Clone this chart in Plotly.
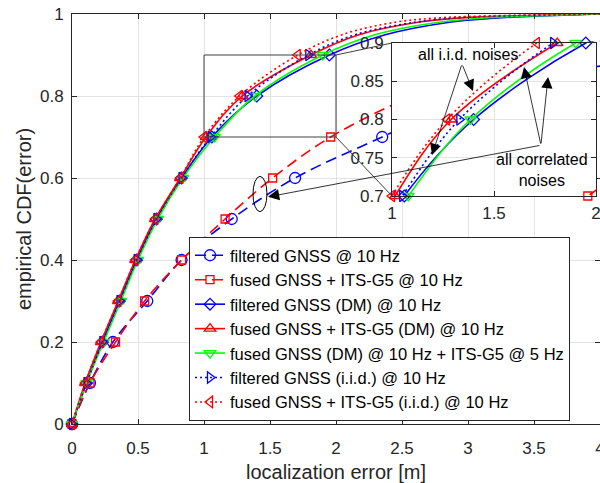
import plotly.graph_objects as go

# ---------------- data ----------------
# CDF levels for the solid / dotted curves
levels = [0, 0.1, 0.2, 0.3, 0.4, 0.5, 0.6, 0.7, 0.8, 0.9, 0.95, 0.98, 0.99, 0.995, 1.0]
# localization error [m] reached at each CDF level
filt_dm      = [0, 0.11, 0.23, 0.36, 0.49, 0.64, 0.83, 1.06, 1.40, 1.95, 2.38, 2.86, 3.20, 3.55, 4.0]
fused_dm     = [0, 0.10, 0.22, 0.35, 0.48, 0.63, 0.82, 1.015, 1.29, 1.81, 2.18, 2.62, 2.92, 3.30, 4.0]
fused_dm_5hz = [0, 0.11, 0.24, 0.37, 0.50, 0.65, 0.84, 1.08, 1.385, 1.90, 2.30, 2.78, 3.10, 3.45, 4.0]
filt_iid     = [0, 0.11, 0.23, 0.36, 0.49, 0.64, 0.83, 1.05, 1.33, 1.79, 2.15, 2.60, 2.88, 3.25, 4.0]
fused_iid    = [0, 0.10, 0.22, 0.35, 0.48, 0.63, 0.82, 1.00, 1.27, 1.71, 2.05, 2.45, 2.75, 3.10, 4.0]

# dashed curves (filtered / fused GNSS @ 10 Hz)
levels_filt  = [0, 0.1, 0.2, 0.3, 0.4, 0.5, 0.6, 0.7, 0.8, 0.85, 0.873]
filt_gnss    = [0, 0.136, 0.31, 0.57, 0.83, 1.21, 1.69, 2.35, 3.05, 3.55, 4.0]
levels_fused = [0, 0.1, 0.2, 0.3, 0.4, 0.5, 0.6, 0.7, 0.8, 0.9, 0.934]
fused_gnss   = [0, 0.136, 0.33, 0.55, 0.83, 1.16, 1.52, 1.96, 2.58, 3.40, 4.0]

marker_levels = [0, 0.1, 0.2, 0.3, 0.4, 0.5, 0.6, 0.7, 0.8, 0.9]

names = [
    "filtered GNSS @ 10 Hz",
    "fused GNSS + ITS-G5 @ 10 Hz",
    "filtered GNSS (DM) @ 10 Hz",
    "fused GNSS + ITS-G5 (DM) @ 10 Hz",
    "fused GNSS (DM) @ 10 Hz + ITS-G5 @ 5 Hz",
    "filtered GNSS (i.i.d.) @ 10 Hz",
    "fused GNSS + ITS-G5 (i.i.d.) @ 10 Hz",
]

x_ticks = [0, 0.5, 1, 1.5, 2, 2.5, 3, 3.5, 4]
y_ticks = [0, 0.2, 0.4, 0.6, 0.8, 1]
inset_x_ticks = [1, 1.5, 2]
inset_y_ticks = [0.7, 0.75, 0.8, 0.85, 0.9]

# ---------------- styles ----------------
BLUE, RED, GREEN = "#0000ff", "#ff0000", "#00ff00"
DASH = "11px,6px"
DOT = "2px,3px"
series = [
    (filt_gnss, levels_filt, BLUE, DASH, "circle-open", 11),
    (fused_gnss, levels_fused, RED, DASH, "square-open", 8),
    (filt_dm, levels, BLUE, "solid", "diamond-open", 9),
    (fused_dm, levels, RED, "solid", "triangle-up-open", 10),
    (fused_dm_5hz, levels, GREEN, "solid", "triangle-down-open", 10),
    (filt_iid, levels, BLUE, DOT, "triangle-right-open", 10),
    (fused_iid, levels, RED, DOT, "triangle-left-open", 10),
]

FONT = "Liberation Sans, Arial, Helvetica, sans-serif"
AX = "#262626"
GRID = "#e3e3e3"

W, H = 600, 483
ML, MR, MT, MB = 72, 0, 14, 59
XR = [0, 4]
YR = [0, 1]
IX = [1, 2]
IY = [0.7, 0.9]
inset_dom_x = [0.6061, 0.9924]
inset_dom_y = [0.5561, 0.9293]

fig = go.Figure()

def marker_pts(xs, lv):
    mx, my = [], []
    for x, l in zip(xs, lv):
        if any(abs(l - m) < 1e-9 for m in marker_levels):
            mx.append(x)
            my.append(l)
    return mx, my

# main curves
for (xs, lv, col, dash, sym, ms), name in zip(series, names):
    fig.add_trace(go.Scatter(x=xs, y=lv, mode="lines", line=dict(color=col, width=1.6, dash=dash, shape="spline"),
                             showlegend=False, hoverinfo="skip", xaxis="x", yaxis="y"))
    mx, my = marker_pts(xs, lv)
    fig.add_trace(go.Scatter(x=mx, y=my, mode="markers", cliponaxis=False,
                             marker=dict(symbol=sym, size=ms, color=col, line=dict(color=col, width=1.3)),
                             showlegend=False, hoverinfo="skip", xaxis="x", yaxis="y"))

# legend entries
for (xs, lv, col, dash, sym, ms), name in zip(series, names):
    fig.add_trace(go.Scatter(x=[None], y=[None], mode="lines+markers", name=name,
                             line=dict(color=col, width=1.6, dash=dash),
                             marker=dict(symbol=sym, size=ms, color=col, line=dict(color=col, width=1.3)),
                             xaxis="x", yaxis="y"))

# inset curves
for (xs, lv, col, dash, sym, ms), name in zip(series, names):
    fig.add_trace(go.Scatter(x=xs, y=lv, mode="lines", line=dict(color=col, width=1.6, dash=dash, shape="spline"),
                             showlegend=False, hoverinfo="skip", xaxis="x2", yaxis="y2"))
    mx, my = marker_pts(xs, lv)
    keep = [(a, b) for a, b in zip(mx, my)
            if IX[0] - 1e-6 <= a <= IX[1] + 1e-6 and IY[0] - 1e-6 <= b <= IY[1] + 1e-6]
    fig.add_trace(go.Scatter(x=[k[0] for k in keep], y=[k[1] for k in keep], mode="markers", cliponaxis=False,
                             marker=dict(symbol=sym, size=ms, color=col, line=dict(color=col, width=1.3)),
                             showlegend=False, hoverinfo="skip", xaxis="x2", yaxis="y2"))

axis_common = dict(showline=True, linecolor=AX, linewidth=1, mirror="ticks", ticks="inside",
                   tickcolor=AX, ticklen=5, tickwidth=1, showgrid=True, gridcolor=GRID, gridwidth=1,
                   zeroline=False, automargin=False, ticklabeloverflow="allow",
                   tickfont=dict(family=FONT, size=17, color=AX))

fig.update_layout(
    width=W, height=H,
    margin=dict(l=ML, r=MR, t=MT, b=MB, autoexpand=False),
    paper_bgcolor="white", plot_bgcolor="white",
    font=dict(family=FONT, color=AX),
    xaxis=dict(range=XR, domain=[0, 1], tickvals=x_ticks, ticktext=[f"{v:g}" for v in x_ticks],
               title=dict(text="localization error [m]", font=dict(size=20, color=AX), standoff=8),
               ticklabelstandoff=9, **axis_common),
    yaxis=dict(range=YR, domain=[0, 1], tickvals=y_ticks, ticktext=[f"{v:g}" for v in y_ticks],
               title=dict(text="empirical CDF(error)", font=dict(size=20, color=AX), standoff=2),
               ticklabelstandoff=4, **axis_common),
    xaxis2=dict(range=IX, domain=inset_dom_x, anchor="y2", tickvals=inset_x_ticks,
                ticktext=[f"{v:g}" for v in inset_x_ticks], ticklabelstandoff=2, **axis_common),
    yaxis2=dict(range=IY, domain=inset_dom_y, anchor="x2", tickvals=inset_y_ticks,
                ticktext=[f"{v:g}" for v in inset_y_ticks], ticklabelstandoff=4, **axis_common),
    legend=dict(x=0.2216, y=0.456, xanchor="left", yanchor="top", bgcolor="white",
                bordercolor=AX, borderwidth=1, font=dict(family=FONT, size=16.5, color="black"),
                traceorder="normal"),
    showlegend=True,
)

# white background of the inset (drawn under the inset traces but over the main ones)
fig.add_shape(type="rect", xref="x2", yref="y2", x0=IX[0], x1=IX[1], y0=IY[0], y1=IY[1],
              fillcolor="white", line=dict(width=0), layer="below")

# zoom rectangle on the main axes
fig.add_shape(type="rect", xref="x", yref="y", x0=IX[0], x1=IX[1], y0=IY[0], y1=IY[1],
              line=dict(color="#404040", width=1), layer="above")
# connector lines (paper coordinates of the main plot area)
def px(x):
    return (x - XR[0]) / (XR[1] - XR[0])
def py(y):
    return (y - YR[0]) / (YR[1] - YR[0])
fig.add_shape(type="line", xref="paper", yref="paper", x0=px(IX[1]), y0=py(IY[1]),
              x1=inset_dom_x[0], y1=inset_dom_y[1], line=dict(color="#404040", width=1))
fig.add_shape(type="line", xref="paper", yref="paper", x0=px(IX[1]), y0=py(IY[0]),
              x1=inset_dom_x[0], y1=inset_dom_y[0], line=dict(color="#404040", width=1))

# ellipse around the dashed curves
fig.add_shape(type="circle", xref="x", yref="y", x0=1.371, x1=1.477, y0=0.518, y1=0.604,
              line=dict(color="black", width=1))

# annotations
ann_font = dict(family=FONT, size=16, color="black")
fig.add_annotation(x=1.377, y=0.8843, xref="x2", yref="y2", text="all i.i.d. noises", showarrow=False,
                   font=ann_font)
fig.add_annotation(x=1.735, y=0.734, xref="x2", yref="y2", text="all correlated<br>noises", showarrow=False,
                   font=ann_font)
arrow = dict(showarrow=True, arrowhead=2, arrowsize=2.8, arrowwidth=0.8, arrowcolor="black", text="",
             standoff=0, startstandoff=0)
# i.i.d. arrows
fig.add_annotation(x=1.397, y=0.8373, xref="x2", yref="y2", ax=1.343, ay=0.8725, axref="x2", ayref="y2", **arrow)
fig.add_annotation(x=1.196, y=0.7536, xref="x2", yref="y2", ax=1.343, ay=0.8725, axref="x2", ayref="y2", **arrow)
# correlated arrows
fig.add_annotation(x=1.647, y=0.8686, xref="x2", yref="y2", ax=1.730, ay=0.7667, axref="x2", ayref="y2", **arrow)
fig.add_annotation(x=1.765, y=0.8556, xref="x2", yref="y2", ax=1.730, ay=0.7667, axref="x2", ayref="y2", **arrow)
fig.add_annotation(x=1.485, y=0.554, xref="x", yref="y", ax=3.553, ay=0.680, axref="x", ayref="y", **arrow)

# the page is shown at exactly the figure size: drop the browser's default body margin
fig.write_html("out.html", config={"displayModeBar": False},
               post_script="document.body.style.margin='0px';")
